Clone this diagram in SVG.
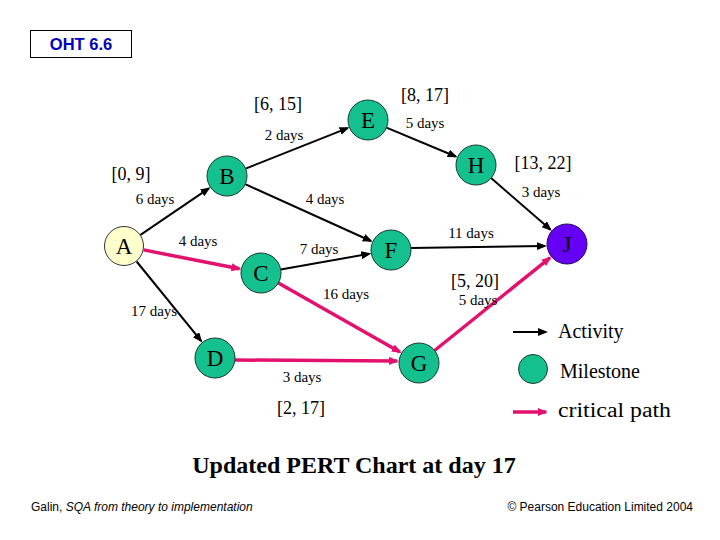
<svg xmlns="http://www.w3.org/2000/svg" width="720" height="540" viewBox="0 0 720 540">
<defs>
<marker id="ab" markerUnits="userSpaceOnUse" markerWidth="12" markerHeight="10" refX="8" refY="4" orient="auto"><path d="M0,0 L10,4 L0,8 z" fill="#000"/></marker>
<marker id="ap" markerUnits="userSpaceOnUse" markerWidth="12" markerHeight="10" refX="8" refY="4" orient="auto"><path d="M0,0 L10,4 L0,8 z" fill="#E3106E"/></marker>
</defs>
<style>
.act{stroke:#000;stroke-width:2;fill:none;marker-end:url(#ab)}
.crit{stroke:#E3106E;stroke-width:3.5;fill:none;marker-end:url(#ap)}
.ms{fill:#14C08E;stroke:#1b3a31;stroke-width:1}
.nl{font-family:"Liberation Serif",serif;font-size:23px;text-anchor:middle;fill:#000}
.lb{font-family:"Liberation Serif",serif;font-size:18px;text-anchor:middle;fill:#000}
.dy{font-family:"Liberation Serif",serif;font-size:15px;text-anchor:middle;fill:#000}
.lg{font-family:"Liberation Serif",serif;font-size:20px;fill:#000}
.ft{font-family:"Liberation Sans",Arial,sans-serif;font-size:12px;fill:#000}
</style>
<rect width="720" height="540" fill="#fff"/>
<g id="header">
<rect x="30.5" y="30.5" width="101" height="27" fill="#fff" stroke="#000" stroke-width="1"/>
<text x="81" y="50" font-family="Liberation Sans,Arial,sans-serif" font-weight="bold" font-size="16.5" fill="#0000C0" text-anchor="middle">OHT 6.6</text>
</g>
<g id="connectors">
<line class="act" x1="140.5" y1="234.8" x2="208.8" y2="188.4"/>
<line class="act" x1="245.6" y1="168.6" x2="347.6" y2="128.1"/>
<line class="act" x1="245.2" y1="184.2" x2="370.9" y2="241.0"/>
<line class="act" x1="386.5" y1="127.7" x2="455.7" y2="156.5"/>
<line class="act" x1="491.1" y1="178.1" x2="550.4" y2="229.6"/>
<line class="act" x1="280.7" y1="269.5" x2="369.3" y2="253.8"/>
<line class="act" x1="136.6" y1="261.5" x2="201.1" y2="340.9"/>
<line class="act" x1="411" y1="248" x2="545" y2="246"/>
<line class="crit" x1="143.6" y1="249.9" x2="239.4" y2="268.8"/>
<line class="crit" x1="278.4" y1="282.9" x2="399.9" y2="352.1"/>
<line class="crit" x1="235" y1="360" x2="397" y2="361"/>
<line class="crit" x1="434.6" y1="350.5" x2="549.9" y2="257.8"/>
</g>
<g id="labels">
<text class="lb" x="278" y="110">[6, 15]</text>
<text class="dy" x="284" y="140">2 days</text>
<text class="lb" x="131" y="180">[0, 9]</text>
<text class="dy" x="155" y="204">6 days</text>
<text class="dy" x="325" y="204">4 days</text>
<text class="lb" x="425" y="101">[8, 17]</text>
<text class="dy" x="425" y="128">5 days</text>
<text class="lb" x="543" y="169">[13, 22]</text>
<text class="dy" x="541" y="197">3 days</text>
<text class="dy" x="471" y="238">11 days</text>
<text class="dy" x="198" y="246">4 days</text>
<text class="dy" x="319" y="254">7 days</text>
<text class="dy" x="346" y="299">16 days</text>
<text class="dy" x="154" y="316">17 days</text>
<text class="lb" x="475" y="287">[5, 20]</text>
<text class="dy" x="478" y="305" font-size="14">5 days</text>
<text class="dy" x="302" y="382">3 days</text>
<text class="lb" x="301" y="414">[2, 17]</text>
</g>
<g id="node-A"><circle cx="124" cy="246" r="19.5" fill="#FFFFCC" stroke="#333" stroke-width="1"/><text class="nl" x="124" y="254">A</text></g>
<g id="node-B"><circle class="ms" cx="227" cy="176" r="20"/><text class="nl" x="227" y="184">B</text></g>
<g id="node-E"><circle class="ms" cx="368" cy="120" r="20"/><text class="nl" x="368" y="128">E</text></g>
<g id="node-H"><circle class="ms" cx="476" cy="165" r="20"/><text class="nl" x="476" y="173">H</text></g>
<g id="node-J"><circle cx="567" cy="244" r="20" fill="#6600F5" stroke="#2a0a5a" stroke-width="1"/><text class="nl" x="567" y="252">J</text></g>
<g id="node-F"><circle class="ms" cx="391" cy="250" r="20"/><text class="nl" x="391" y="258">F</text></g>
<g id="node-C"><circle class="ms" cx="261" cy="273" r="20"/><text class="nl" x="261" y="281">C</text></g>
<g id="node-D"><circle class="ms" cx="215" cy="358" r="20"/><text class="nl" x="215" y="366">D</text></g>
<g id="node-G"><circle class="ms" cx="419" cy="363" r="20"/><text class="nl" x="419" y="371">G</text></g>
<g id="legend">
<line class="act" x1="513" y1="332" x2="546" y2="332"/>
<text class="lg" x="558" y="338">Activity</text>
<circle class="ms" cx="533" cy="369" r="14.5"/>
<text class="lg" x="560" y="378">Milestone</text>
<line class="crit" x1="513" y1="412" x2="546" y2="412"/>
<text class="lg" x="558" y="417" font-size="25" textLength="113" lengthAdjust="spacingAndGlyphs">critical path</text>
</g>
<g id="footer">
<text x="354" y="473" font-family="Liberation Serif,serif" font-weight="bold" font-size="24" text-anchor="middle">Updated PERT Chart at day 17</text>
<text class="ft" x="31" y="511">Galin, <tspan font-style="italic">SQA from theory to implementation</tspan></text>
<text class="ft" x="693" y="511" text-anchor="end">© Pearson Education Limited 2004</text>
</g>
</svg>
